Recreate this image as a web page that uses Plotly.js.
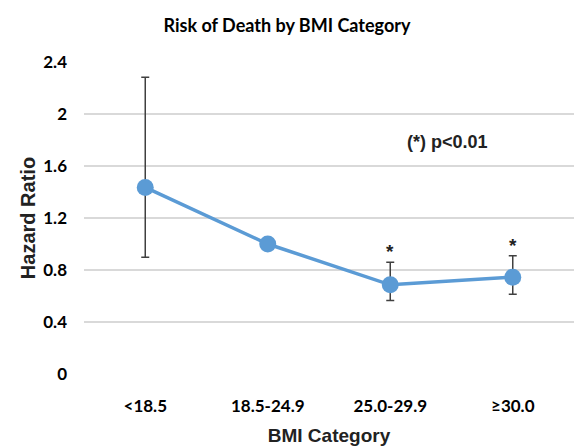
<!DOCTYPE html>
<html>
<head>
<meta charset="utf-8">
<script src="https://cdn.plot.ly/plotly-3.0.1.min.js"></script>
<style>html,body{margin:0;padding:0;background:#fff}#chart{width:574px;height:448px}</style>
</head>
<body>
<div id="chart"></div>
<script>
var categories = ["<18.5", "18.5-24.9", "25.0-29.9", "≥30.0"];
var hazardRatio = [1.435, 1.0, 0.686, 0.745];
var ciUpper = [2.283, 1.0, 0.86, 0.91];
var ciLower = [0.899, 1.0, 0.565, 0.614];
var significant = [false, false, true, true];
var yTicks = [0, 0.4, 0.8, 1.2, 1.6, 2, 2.4];

var errPlus = hazardRatio.map(function(v, i){ return ciUpper[i] - v; });
var errMinus = hazardRatio.map(function(v, i){ return v - ciLower[i]; });

var trace = {
  x: categories, y: hazardRatio, type: 'scatter', mode: 'lines+markers',
  line: {color: '#5b9bd5', width: 3.5},
  marker: {color: '#5b9bd5', size: 17},
  error_y: {type: 'data', symmetric: false, array: errPlus, arrayminus: errMinus,
            color: '#404040', thickness: 1.5, width: 4},
  cliponaxis: false, hoverinfo: 'skip'
};

var annotations = [];
categories.forEach(function(c, i){
  if (significant[i]) {
    annotations.push({x: c, y: ciUpper[i], xref: 'x', yref: 'y', text: '<b>*</b>', showarrow: false,
      yanchor: 'bottom', yshift: -2, font: {family: 'Liberation Sans, Arial', size: 19, color: '#222'}});
  }
});
annotations.push({xref: 'paper', yref: 'paper', x: (447-84)/490, y: (374-142)/312,
  text: '<b>(*) p&lt;0.01</b>', showarrow: false, xanchor: 'center', yanchor: 'middle',
  font: {family: 'Liberation Sans, Arial', size: 18, color: '#222'}});

var layout = {
  width: 574, height: 448,
  margin: {l: 84, r: 0, t: 62, b: 74},
  paper_bgcolor: '#fff', plot_bgcolor: '#fff',
  showlegend: false,
  title: {text: '<b>Risk of Death by BMI Category</b>', x: 0.5, xanchor: 'center', y: 0.943, yanchor: 'middle',
    font: {family: 'Lato, sans-serif', size: 18, color: '#000'}},
  xaxis: {type: 'category', range: [-0.5, 3.5], showgrid: false, zeroline: false, showline: false,
    ticks: '', tickfont: {family: 'Lato, sans-serif', size: 17, color: '#000', weight: 'bold'},
    ticklabelstandoff: 20,
    title: {text: '<b>BMI Category</b>', standoff: 13, font: {family: 'Liberation Sans, Arial', size: 19, color: '#222'}}},
  yaxis: {range: [0, 2.4], tickvals: yTicks, ticktext: yTicks.map(String), showgrid: true, gridcolor: '#d9d9d9', gridwidth: 1.3,
    zeroline: false, showline: false, ticks: '', ticklabelstandoff: 16,
    tickfont: {family: 'Lato, sans-serif', size: 17, color: '#000', weight: 'bold'},
    title: {text: '<b>Hazard Ratio</b>', standoff: 2, font: {family: 'Liberation Sans, Arial', size: 20, color: '#222'}}},
  annotations: annotations
};

Plotly.newPlot('chart', [trace], layout, {displayModeBar: false, staticPlot: true});
</script>
</body>
</html>
